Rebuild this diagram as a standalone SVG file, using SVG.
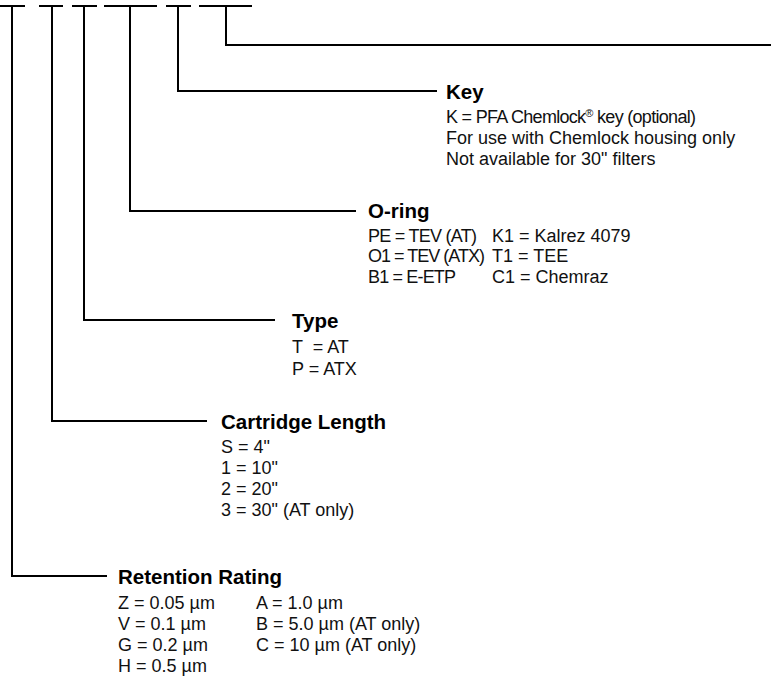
<svg xmlns="http://www.w3.org/2000/svg" width="771" height="698" viewBox="0 0 771 698">
<style>
.ln{fill:none;stroke:#000;stroke-width:2}
.h{font-family:"Liberation Sans",Arial,sans-serif;font-size:20.5px;font-weight:bold;fill:#000}
.b{font-family:"Liberation Sans",Arial,sans-serif;font-size:18px;fill:#111;white-space:pre}
</style>
<rect width="771" height="698" fill="#fff"/>
<g id="connectors" class="ln">
<path d="M0 6H25M39 6H63M72 6H97M104 6H157M166 6H191M199 6H252"/>
<path d="M226 6V45H771"/>
<path d="M178 6V91H437"/>
<path d="M130 6V211H356"/>
<path d="M84 6V320H275"/>
<path d="M52 6V421H207"/>
<path d="M12 6V576H107"/>
</g>
<g id="node-key">
<text class="h" x="446" y="99">Key</text>
<text class="b" x="446" y="122.5" textLength="250">K = PFA Chemlock<tspan font-size="11" dy="-6">®</tspan><tspan dy="6"> key (optional)</tspan></text>
<text class="b" x="446" y="143.5">For use with Chemlock housing only</text>
<text class="b" x="446" y="164.5">Not available for 30" filters</text>
</g>
<g id="node-oring">
<text class="h" x="368" y="218">O-ring</text>
<text class="b" x="368" y="241.5" textLength="109">PE = TEV (AT)</text>
<text class="b" x="368" y="262" textLength="117">O1 = TEV (ATX)</text>
<text class="b" x="368" y="282.5" textLength="88">B1 = E-ETP</text>
<text class="b" x="492" y="241.5">K1 = Kalrez 4079</text>
<text class="b" x="492" y="262">T1 = TEE</text>
<text class="b" x="492" y="282.5">C1 = Chemraz</text>
</g>
<g id="node-type">
<text class="h" x="292" y="327.5">Type</text>
<text class="b" x="292" y="353">T  = AT</text>
<text class="b" x="292" y="375">P = ATX</text>
</g>
<g id="node-length">
<text class="h" x="221" y="428.5">Cartridge Length</text>
<text class="b" x="221" y="452.5">S = 4"</text>
<text class="b" x="221" y="473.5">1 = 10"</text>
<text class="b" x="221" y="494.5">2 = 20"</text>
<text class="b" x="221" y="515.5">3 = 30" (AT only)</text>
</g>
<g id="node-retention">
<text class="h" x="118" y="583.5">Retention Rating</text>
<text class="b" x="118" y="608.5">Z = 0.05 µm</text>
<text class="b" x="118" y="629.5">V = 0.1 µm</text>
<text class="b" x="118" y="650.5">G = 0.2 µm</text>
<text class="b" x="118" y="671.5">H = 0.5 µm</text>
<text class="b" x="256" y="608.5">A = 1.0 µm</text>
<text class="b" x="256" y="629.5">B = 5.0 µm (AT only)</text>
<text class="b" x="256" y="650.5">C = 10 µm (AT only)</text>
</g>
</svg>
